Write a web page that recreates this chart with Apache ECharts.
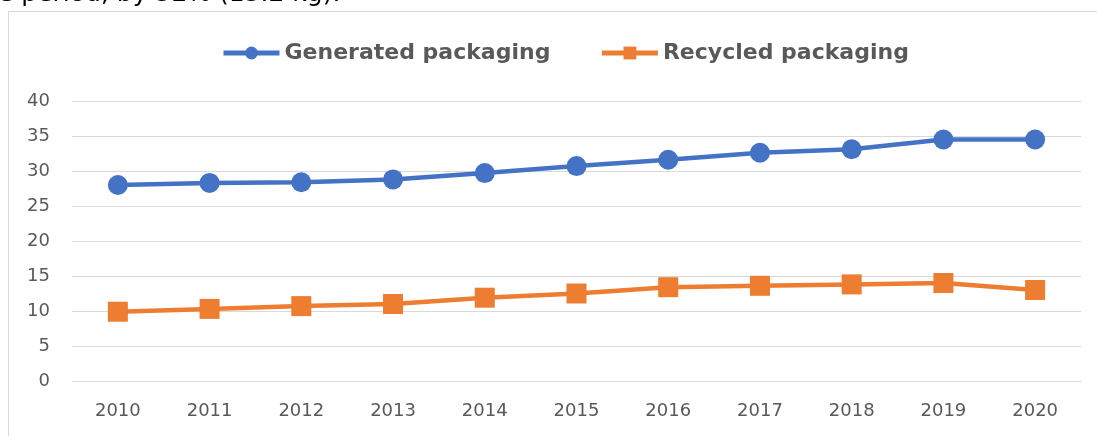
<!DOCTYPE html>
<html>
<head>
<meta charset="utf-8">
<script src="https://cdn.jsdelivr.net/npm/echarts@6/dist/echarts.min.js"></script>
<style>
html,body{margin:0;padding:0;background:#fff;}
#chart{width:1097px;height:436px;}
</style>
</head>
<body>
<div id="chart"></div>
<script>
const years = ['2010','2011','2012','2013','2014','2015','2016','2017','2018','2019','2020'];
const generated = [28.0, 28.3, 28.4, 28.8, 29.7, 30.7, 31.6, 32.6, 33.1, 34.5, 34.5];
const recycled = [9.9, 10.3, 10.7, 11.0, 11.9, 12.5, 13.4, 13.6, 13.8, 14.0, 13.0];
const seriesNames = ['Generated packaging', 'Recycled packaging'];
const captionText = 'e period, by 32% (13.2 kg).';

const chart = echarts.init(document.getElementById('chart'));
chart.setOption({
  animation: false,
  backgroundColor: '#ffffff',
  graphic: [
    { type: 'rect', shape: { x: 8.5, y: 11.5, width: 1200, height: 500 }, style: { fill: 'none', stroke: '#d9d9d9', lineWidth: 1 }, z: -1 },
    { type: 'text', x: -2, y: -6, style: { text: captionText, font: '25px "DejaVu Sans", sans-serif', fill: '#000000', verticalAlign: 'middle' } }
  ],
  legend: {
    left: 216, top: 37,
    itemWidth: 56, itemHeight: 16, itemGap: 49,
    lineStyle: { width: 5 },
    textStyle: { fontFamily: '"DejaVu Sans", sans-serif', fontSize: 22, fontWeight: 'bold', color: '#595959', padding: [0,0,0,0] },
    data: seriesNames
  },
  grid: { left: 72, right: 16, top: 101, bottom: 55, containLabel: false },
  xAxis: {
    type: 'category', data: years, boundaryGap: true,
    axisLine: { show: true, lineStyle: { color: '#d9d9d9', width: 1 } },
    axisTick: { show: false },
    axisLabel: { margin: 21, fontFamily: '"DejaVu Sans", sans-serif', fontSize: 18, color: '#595959' }
  },
  yAxis: {
    type: 'value', min: 0, max: 40, interval: 5,
    axisLine: { show: false }, axisTick: { show: false },
    splitLine: { lineStyle: { color: '#d9d9d9', width: 1 } },
    axisLabel: { margin: 22, fontFamily: '"DejaVu Sans", sans-serif', fontSize: 18, color: '#595959' }
  },
  series: [
    { name: seriesNames[0], type: 'line', data: generated, symbol: 'circle', symbolSize: 20,
      lineStyle: { color: '#4472C4', width: 4.5 }, itemStyle: { color: '#4472C4' } },
    { name: seriesNames[1], type: 'line', data: recycled, symbol: 'rect', symbolSize: 20,
      lineStyle: { color: '#ED7D31', width: 4.5 }, itemStyle: { color: '#ED7D31' } }
  ]
});
</script>
</body>
</html>
